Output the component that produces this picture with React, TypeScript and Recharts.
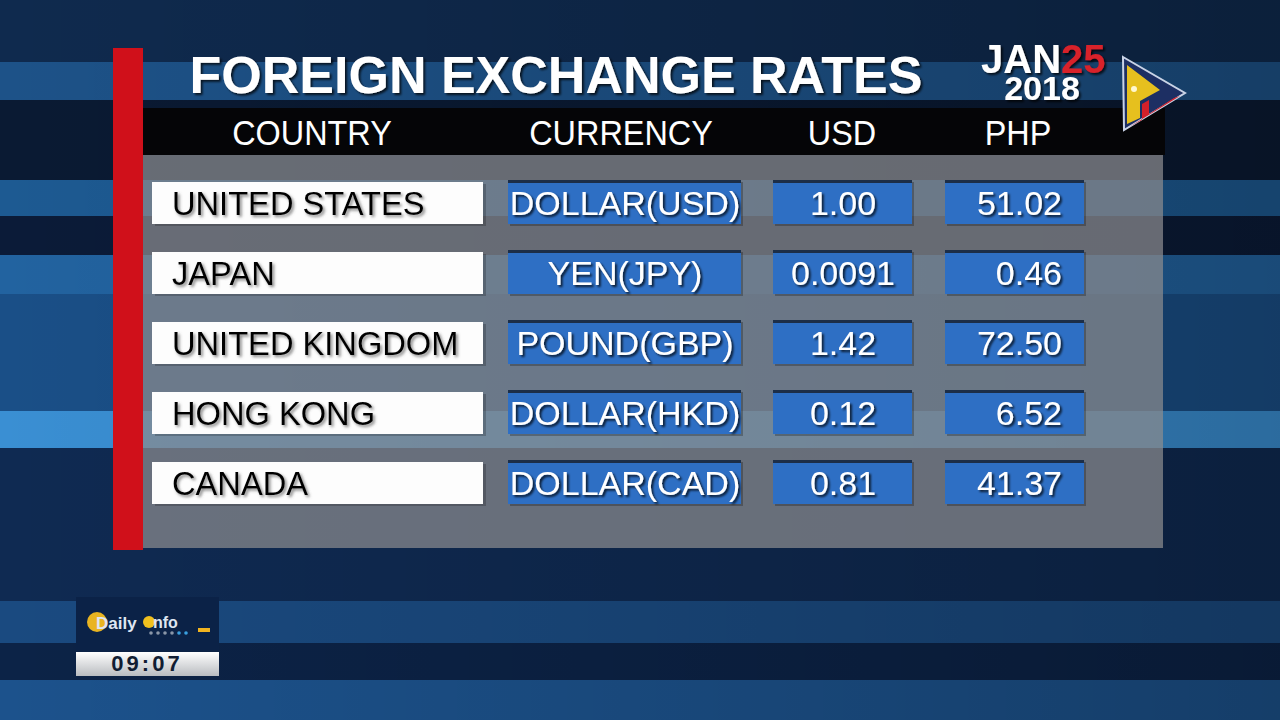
import { ComposedChart, Bar, XAxis, YAxis } from "recharts"

const title = "FOREIGN EXCHANGE RATES"
const dateMonth = "JAN"
const dateDay = "25"
const dateYear = "2018"
const clock = "09:07"

const columns = ["COUNTRY", "CURRENCY", "USD", "PHP"]
const countries = ["UNITED STATES", "JAPAN", "UNITED KINGDOM", "HONG KONG", "CANADA"]
const currencies = ["DOLLAR(USD)", "YEN(JPY)", "POUND(GBP)", "DOLLAR(HKD)", "DOLLAR(CAD)"]
const usdRates = [1.0, 0.0091, 1.42, 0.12, 0.81]
const phpRates = [51.02, 0.46, 72.5, 6.52, 41.37]

const rows = countries.map((country, i) => ({
  country,
  currency: currencies[i],
  usd: usdRates[i],
  php: phpRates[i],
}))

const FONT = "'Liberation Sans', Arial, sans-serif"
const BLUE = "#2e6fc4"
const headerX = [312, 621, 842, 1018]

const stripes: [number, number, string][] = [
  [0, 62, "#0f2a4e"],
  [62, 100, "#1d5288"],
  [100, 180, "#0a1a33"],
  [180, 216, "#1d5a92"],
  [216, 255, "#0b1b38"],
  [255, 294, "#2263a0"],
  [294, 411, "#1a4f87"],
  [411, 448, "#3a8fd3"],
  [448, 601, "#0f2a52"],
  [601, 643, "#1a4a80"],
  [643, 680, "#0c2347"],
  [680, 720, "#1c528c"],
]

const fmtUsd = (v: number) => (v < 0.1 ? v.toFixed(4) : v.toFixed(2))

function BlueCell({ x, w, y, h }: { x: number; w: number; y: number; h: number }) {
  return (
    <g>
      <rect x={x + 2} y={y + 2} width={w} height={h} fill="#000" opacity={0.25} />
      <rect x={x} y={y} width={w} height={h} fill={BLUE} />
      <rect x={x} y={y} width={w} height={3} fill="#1c2e48" />
    </g>
  )
}

function RowShape(props: any) {
  const { y, height, payload } = props
  const cy = y + height / 2
  const base = cy + 12
  const txt = { fontFamily: FONT, fontSize: 34 }
  return (
    <g>
      <rect x={155} y={y + 2} width={331} height={height} fill="#000" opacity={0.2} />
      <rect x={152} y={y} width={331} height={height} fill="#fdfdfd" />
      <text transform={`translate(172 ${base}) scale(0.96 1)`} {...txt} fill="#050505" filter="url(#shGray)">
        {payload.country}
      </text>
      <BlueCell x={508} w={233} y={y - 2} h={height + 2} />
      <text x={625} y={base} {...txt} fill="#fff" textAnchor="middle" filter="url(#shDark)">
        {payload.currency}
      </text>
      <BlueCell x={773} w={139} y={y - 2} h={height + 2} />
      <text x={843} y={base} {...txt} fill="#fff" textAnchor="middle" filter="url(#shDark)">
        {fmtUsd(payload.usd)}
      </text>
      <BlueCell x={945} w={139} y={y - 2} h={height + 2} />
      <text x={1062} y={base} {...txt} fill="#fff" textAnchor="end" filter="url(#shDark)">
        {payload.php.toFixed(2)}
      </text>
    </g>
  )
}

function Backdrop() {
  return (
    <svg width={1280} height={720} style={{ position: "absolute", left: 0, top: 0 }}>
      <defs>
        <filter id="shDark" x="-10%" y="-30%" width="130%" height="170%">
          <feDropShadow dx="2" dy="2" stdDeviation="1.2" floodColor="#000" floodOpacity="0.75" />
        </filter>
        <filter id="shGray" x="-10%" y="-30%" width="130%" height="170%">
          <feDropShadow dx="2" dy="2" stdDeviation="1.5" floodColor="#555" floodOpacity="0.7" />
        </filter>
        <linearGradient id="clockGrad" x1="0" y1="0" x2="0" y2="1">
          <stop offset="0" stopColor="#ffffff" />
          <stop offset="1" stopColor="#b9bcc0" />
        </linearGradient>
        <linearGradient id="shade" x1="0" y1="0" x2="1" y2="0">
          <stop offset="0" stopColor="#000" stopOpacity="0" />
          <stop offset="1" stopColor="#000" stopOpacity="0.25" />
        </linearGradient>
      </defs>
      {stripes.map(([a, b, c]) => (
        <rect key={a} x={0} y={a} width={1280} height={b - a} fill={c} />
      ))}
      <rect x={0} y={0} width={1280} height={720} fill="url(#shade)" />

      {/* panel */}
      <rect x={143} y={155} width={1020} height={393} fill="#8c8c8f" opacity={0.72} />
      <rect x={143} y={108} width={1022} height={47} fill="#050507" />
      <rect x={113} y={48} width={30} height={502} fill="#d0101a" />

      {/* title */}
      <text x={556} y={93} fontFamily={FONT} fontSize={52} fontWeight="bold" fill="#fff" textAnchor="middle" filter="url(#shDark)">
        {title}
      </text>
      {columns.map((c, i) => (
        <text
          key={c}
          transform={`translate(${headerX[i]} 145) scale(0.9 1)`}
          fontFamily={FONT}
          fontSize={36}
          fill="#fff"
          textAnchor="middle"
        >
          {c}
        </text>
      ))}

      {/* date, one text block with two lines */}
      <text fontFamily={FONT} fontWeight="bold" filter="url(#shDark)">
        <tspan x={981} y={73} fontSize={40} fill="#fff">{dateMonth}</tspan>
        <tspan fontSize={40} fill="#d8202a">{dateDay}</tspan>
        <tspan x={1042} y={100} fontSize={34} fill="#fff" textAnchor="middle">{dateYear}</tspan>
      </text>

      {/* network logo */}
      <polygon points="1123,57 1185,93 1124,130" fill="#1d2f63" stroke="#c9d3e6" strokeWidth={2} />
      <polygon points="1127,65 1160,90 1140,101 1140,118 1127,124" fill="#e6c01e" />
      <polygon points="1142,104 1149,100 1149,114 1174,98 1180,96 1129,127 1142,120" fill="#d4202a" />
      <circle cx={1134} cy={89} r={3} fill="#fff8d0" />

      {/* bottom-left bug */}
      <rect x={76} y={597} width={143} height={54} fill="#0b2247" />
      <circle cx={97} cy={622} r={10} fill="#e9b421" />
      <text x={96} y={629} fontFamily={FONT} fontSize={17} fontWeight="bold" fill="#dfe6f2">
        Daily
      </text>
      <circle cx={149} cy={622} r={6} fill="#f0c01e" />
      <text x={153} y={628} fontFamily={FONT} fontSize={16} fontWeight="bold" fill="#dfe6f2">
        nfo
      </text>
      {[0, 1, 2, 3, 4, 5].map((i) => (
        <circle key={i} cx={151 + i * 7} cy={633} r={1.8} fill={i > 3 ? "#3aa0e0" : "#8a96a8"} />
      ))}
      <rect x={198} y={628} width={12} height={4} fill="#f2b420" />
      <rect x={76} y={652} width={143} height={24} fill="url(#clockGrad)" />
      <text x={147} y={671} fontFamily={FONT} fontSize={22} fontWeight="bold" fill="#111d33" textAnchor="middle" letterSpacing={3}>
        {clock}
      </text>
    </svg>
  )
}

export default function App() {
  return (
    <div style={{ position: "relative", width: 1280, height: 720, overflow: "hidden" }}>
      <style>{"body{margin:0}"}</style>
      <Backdrop />
      <div style={{ position: "absolute", left: 0, top: 0 }}>
        <ComposedChart
          width={1280}
          height={720}
          data={rows}
          layout="vertical"
          margin={{ top: 168, right: 0, bottom: 202, left: 0 }}
          barCategoryGap="20%"
        >
          <XAxis type="number" hide domain={[0, 1]} />
          <YAxis type="category" dataKey="country" hide />
          <Bar dataKey={() => 1} shape={RowShape} isAnimationActive={false} />
        </ComposedChart>
      </div>
    </div>
  )
}
